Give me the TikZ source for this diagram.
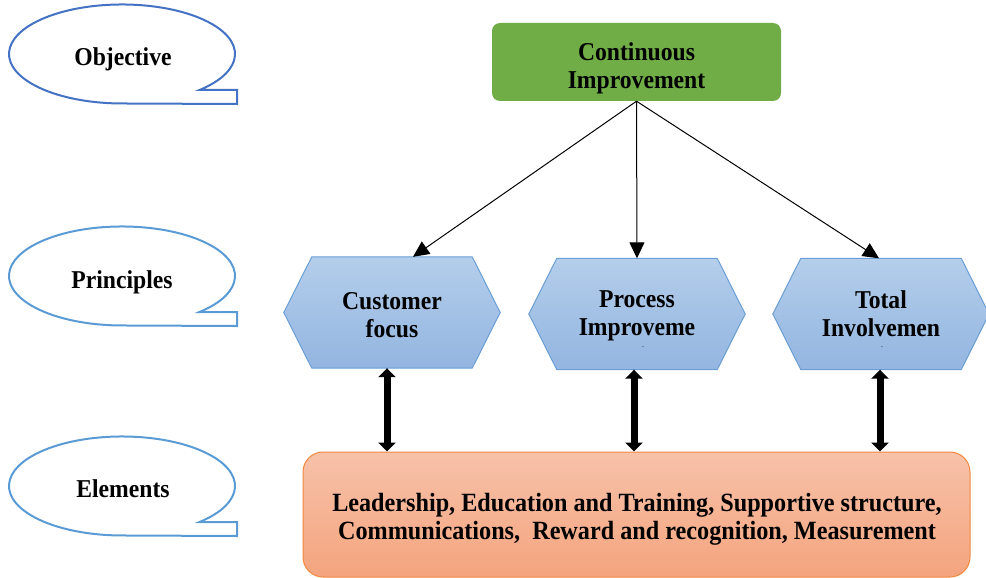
\documentclass[tikz,border=0pt]{standalone}
\usepackage{fontspec}
\setmainfont{Liberation Serif}[FakeStretch=0.92]
\usetikzlibrary{arrows.meta,calc}
\definecolor{calloutA}{HTML}{4472C4}
\definecolor{calloutB}{HTML}{5B9BD5}
\definecolor{greenbox}{HTML}{70AD47}
\definecolor{hexTop}{HTML}{B4CEEB}
\definecolor{hexBot}{HTML}{93B5E0}
\definecolor{hexLine}{HTML}{6A9FD6}
\definecolor{boxTop}{HTML}{F7C2A9}
\definecolor{boxBot}{HTML}{F4A47E}
\definecolor{boxLine}{HTML}{F0883F}
\newcommand\bubblepath[2]{\draw[callout,draw=#2] (199.5,{-(#1+85)}) arc[start angle=-46.7,end angle=270,x radius=113,y radius=49.5] -- (237,{-(#1+99)}) -- (237,{-(#1+85)}) -- cycle;}
\newcommand\hexpath[1]{\shadedraw[top color=hexTop,bottom color=hexBot,draw=hexLine,line width=1pt] (#1.west) -- ($(#1.north west)+(28,0)$) -- ($(#1.north east)+(-28,0)$) -- (#1.east) -- ($(#1.south east)+(-28,0)$) -- ($(#1.south west)+(28,0)$) -- cycle;}
\begin{document}
\begin{tikzpicture}[x=1pt,y=1pt,
  lbl/.style={font=\fontsize{25.7}{28}\selectfont\bfseries, align=center, inner sep=0pt},
  callout/.style={line width=2pt},
  hexnode/.style={inner sep=0pt, minimum width=216pt, minimum height=111pt},
  thinarrow/.style={-{Triangle[length=16pt,width=15pt]}, line width=1pt},
  bigarrow/.style={{Triangle[length=9pt,width=17pt]}-{Triangle[length=9pt,width=17pt]}, line width=7pt},
]
\useasboundingbox (0,0) rectangle (986,-578);

% callouts
\bubblepath{5}{calloutA}
\bubblepath{227}{calloutB}
\bubblepath{437}{calloutB}
\node[lbl] (obj) at (123,-59) {Objective};
\node[lbl] (pri) at (122,-282) {Principles};
\node[lbl] (ele) at (123,-489) {Elements};

% top box
\node[fill=greenbox, rounded corners=8pt, inner sep=0pt, minimum width=289pt, minimum height=78pt] (ci) at (636.5,-62) {};
\node[lbl] (cit) at (636.5,-68) {Continuous\\Improvement};

% hexagons
\node[hexnode] (h1) at (392,-312.5) {};
\node[hexnode] (h2) at (637,-314) {};
\node[hexnode] (h3) at (881,-314) {};
\hexpath{h1}
\hexpath{h2}
\hexpath{h3}
\node[lbl] (h1t) at (392,-315) {Customer\\focus};
\node[lbl] (h2t) at (637,-315.5) {Process\\Improveme};
\node[lbl] (h3t) at (881,-314) {Total\\Involvemen};
\node[font=\fontsize{8}{8}\selectfont, inner sep=0pt] (d2) at (643,-347) {.};
\node[font=\fontsize{8}{8}\selectfont, inner sep=0pt] (d3) at (882,-347) {.};

% bottom box
\node[rounded corners=20pt, top color=boxTop, bottom color=boxBot, draw=boxLine, line width=1pt, inner sep=0pt, minimum width=667pt, minimum height=125pt] (el) at (636.5,-514.5) {};
\node[lbl, font=\fontsize{26.3}{28}\selectfont\bfseries] (elt) at (637,-519.5) {Leadership, Education and Training, Supportive structure,\\Communications,\ \ Reward and recognition, Measurement};

% arrows
\draw[thinarrow] (ci.south) -- ([xshift=21pt]h1.north);
\draw[thinarrow] (ci.south) -- (h2.north);
\draw[thinarrow] (ci.south) -- ([xshift=-2pt]h3.north);
\draw[bigarrow] ([xshift=-5pt]h1.south) -- ([xshift=-5pt]h1.south |- el.north);
\draw[bigarrow] ([xshift=-3pt]h2.south) -- ([xshift=-3pt]h2.south |- el.north);
\draw[bigarrow] ([xshift=-1pt]h3.south) -- ([xshift=-1pt]h3.south |- el.north);
\end{tikzpicture}
\end{document}
